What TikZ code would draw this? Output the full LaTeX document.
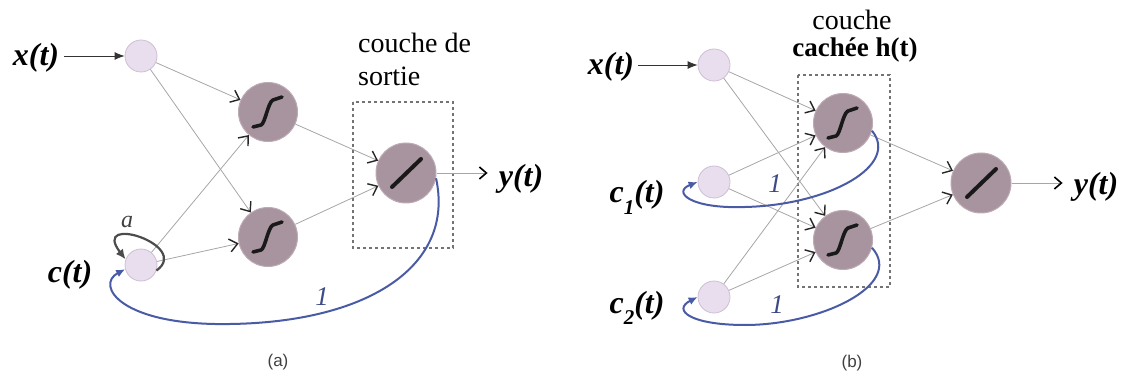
\documentclass[tikz,border=0pt]{standalone}
\usepackage{fontspec}
\setmainfont{Liberation Serif}
\newfontfamily\capfont{Liberation Sans}
\usetikzlibrary{arrows.meta}
\definecolor{inpfill}{HTML}{E9DEEE}
\definecolor{inpdraw}{HTML}{CDBFD4}
\definecolor{hidfill}{HTML}{A8949F}
\definecolor{hiddraw}{HTML}{BCAAB4}
\definecolor{edgegray}{HTML}{A6A6A6}
\definecolor{fbblue}{HTML}{4A5BA6}
\definecolor{onecol}{HTML}{3D4A85}
\newcommand\sigmoidin[1]{\draw[sigl,shift={(#1.center)}] (-15,15) -- (-7,13) .. controls (-3,12) and (0,-10) .. (5,-12) -- (14,-15);}
\newcommand\linearin[1]{\draw[sigl,line width=4pt,shift={(#1.center)}] (-14,14) -- (15,-14);}
\tikzset{
 inp/.style={circle, minimum size=32pt, inner sep=0pt, fill=inpfill, draw=inpdraw, line width=0.8pt},
 hid/.style={circle, minimum size=59pt, inner sep=0pt, fill=hidfill, draw=hiddraw, line width=1pt},
 outn/.style={hid, minimum size=60pt},
 conn/.style={draw=edgegray, line width=0.8pt, -{Straight Barb[length=8pt,width=13pt,line width=1.4pt,color=black!85]}},
 inarrow/.style={draw=black!80, line width=0.8pt, -{Latex[length=10pt,width=8pt]}},
 outarrow/.style={draw=edgegray, line width=0.8pt, -{Straight Barb[length=7pt,width=12pt,line width=1.6pt,color=black]}},
 fb/.style={draw=fbblue, line width=2pt, -{Latex[length=9pt,width=8pt]}},
 selfloop/.style={draw=black!70, line width=2.2pt, -{Latex[length=10pt,width=9pt]}},
 sigl/.style={line width=3.6pt, black!90, line cap=round, line join=round},
 vlab/.style={font=\fontsize{32}{32}\selectfont\bfseries\itshape, inner sep=0pt},
 onel/.style={font=\fontsize{27}{27}\selectfont\itshape, text=onecol, inner sep=0pt},
 boxst/.style={draw=black!55, line width=1.3pt, dash pattern=on 3pt off 3pt},
 layertxt/.style={font=\fontsize{28}{31}\selectfont, inner sep=0pt},
 caption/.style={font=\capfont\fontsize{17}{17}\selectfont, text=black!75, inner sep=0pt},
}
\begin{document}
\begin{tikzpicture}[x=1pt,y=-1pt]
\useasboundingbox (0,0) rectangle (1129,379);
% ---------- panel (a) ----------
\draw[boxst] (353,102) rectangle (453,248);
\node[inp] (xin) at (141,56) {};
\node[inp] (cin) at (141,265) {};
\node[hid] (h1) at (268,112) {};
\node[hid] (h2) at (268,237) {};
\node[outn] (out) at (406,173) {};
\sigmoidin{h1}
\sigmoidin{h2}
\linearin{out}
\node[vlab, anchor=base] (xl) at (36,66) {x(t)};
\node[vlab, anchor=base] (cl) at (70,283) {c(t)};
\node[vlab, anchor=base] (yl) at (521,187) {y(t)};
\node[layertxt, anchor=base west] (la1) at (358,53) {couche de};
\node[layertxt, anchor=base west] (la2) at (358,86) {sortie};
\draw[inarrow] (xl.east |- xin) -- (xin) [shorten <=5pt];
\draw[conn] (xin) -- (h1);
\draw[conn] (xin) -- (h2);
\draw[conn] (cin) -- (h1);
\draw[conn] (cin) -- (h2);
\draw[conn] (h1) -- (out);
\draw[conn] (h2) -- (out);
\draw[outarrow, shorten >=11pt] (out) -- (yl.west |- out);
\draw[selfloop] (cin.-20) .. controls (192,245) and (90,213) .. (cin.160);
\node[font=\fontsize{24}{24}\selectfont\itshape, text=black!75, inner sep=0pt] (al) at (127,222) {a};
\draw[fb] (out.-10) .. controls (455,265) and (370,322) .. (230,324) .. controls (120,326) and (95,285) .. (cin.195);
\node[onel] (one1) at (322,297) {1};
\node[caption] (capa) at (278,362) {(a)};
% ---------- panel (b) ----------
\draw[boxst] (798,75) rectangle (890,287);
\node[inp] (xin2) at (714,65) {};
\node[inp] (c1n) at (714,182) {};
\node[inp] (c2n) at (714,297) {};
\node[hid] (hb1) at (843,123) {};
\node[hid] (hb2) at (843,240) {};
\node[outn] (outb) at (981,183) {};
\sigmoidin{hb1}
\sigmoidin{hb2}
\linearin{outb}
\node[vlab, anchor=base] (xl2) at (611,75) {x(t)};
\node[vlab, anchor=base] (c1l) at (637,203) {c\raisebox{-0.35em}{\fontsize{21}{21}\selectfont 1}(t)};
\node[vlab, anchor=base] (c2l) at (637,313) {c\raisebox{-0.35em}{\fontsize{21}{21}\selectfont 2}(t)};
\node[vlab, anchor=base] (yl2) at (1096,195) {y(t)};
\node[layertxt, anchor=base] (lb1) at (852,30) {couche};
\node[layertxt, anchor=base, font=\fontsize{27}{31}\selectfont\bfseries] (lb2) at (855,57) {cachée h(t)};
\draw[inarrow] (xl2.east |- xin2) -- (xin2) [shorten <=4pt];
\foreach \s in {xin2,c1n,c2n}{
  \draw[conn] (\s) -- (hb1);
  \draw[conn] (\s) -- (hb2);
}
\draw[conn] (hb1) -- (outb);
\draw[conn] (hb2) -- (outb);
\draw[outarrow, shorten >=11pt] (outb) -- (yl2.west |- outb);
\draw[fb] (hb1.-15) .. controls (900,165) and (830,205) .. (745,207) .. controls (690,209) and (672,192) .. (c1n.west);
\draw[fb] (hb2.-15) .. controls (905,285) and (820,325) .. (745,325) .. controls (690,325) and (672,310) .. (c2n.west);
\node[onel] (one2) at (775,184) {1};
\node[onel] (one3) at (777,305) {1};
\node[caption] (capb) at (852,363) {(b)};
\end{tikzpicture}
\end{document}
